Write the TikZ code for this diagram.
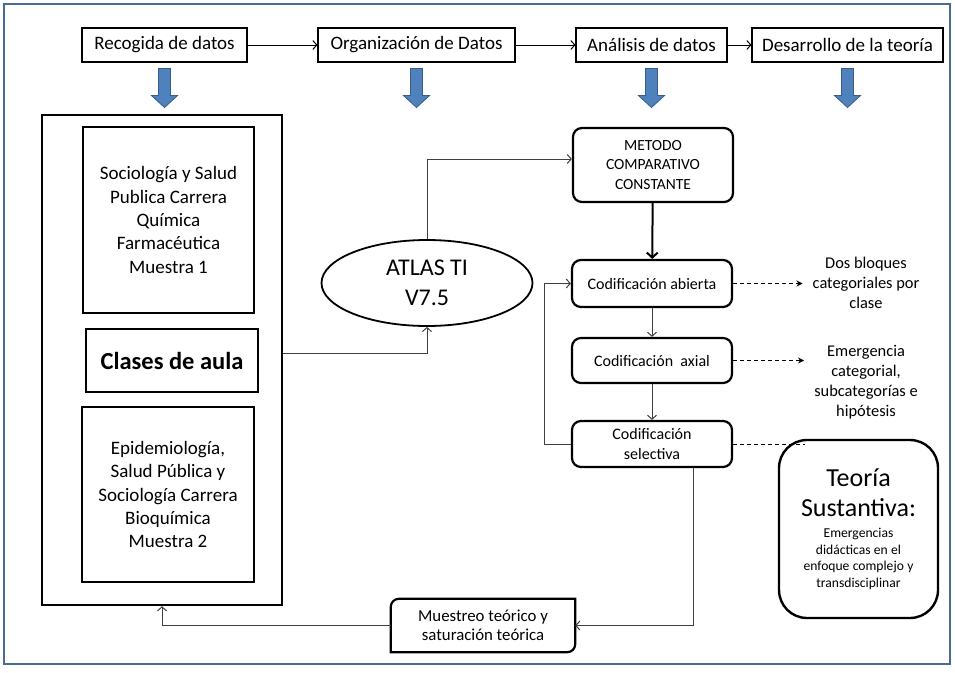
\documentclass[tikz,border=0pt]{standalone}
\usepackage{fontspec}
\setmainfont{Carlito}
\usetikzlibrary{shapes.geometric,arrows.meta}

\definecolor{arrowblue}{RGB}{79,129,189}
\definecolor{arrowedge}{RGB}{56,93,138}
\definecolor{framecol}{RGB}{74,106,150}

\newcommand{\fsz}[2]{\fontsize{#1}{#2}\selectfont}
% blue block arrow under a stage box
\newcommand{\downblock}[1]{\draw[bluearrow] ([xshift=-6pt,yshift=-6pt]#1.south) -- ++(12,0) -- ++(0,27) -- ++(7,0) -- ++(-13,12) -- ++(-13,-12) -- ++(7,0) -- cycle;}

\begin{document}
\begin{tikzpicture}[x=1pt,y=-1pt,
	stagebox/.style={draw,line width=1.1pt,minimum height=34pt,inner sep=0pt,font=\fsz{19}{23}},
	samplebox/.style={draw,line width=2.4pt,align=center,font=\fsz{19}{23.3}},
	codebox/.style={draw,line width=2.2pt,rounded corners=9pt,align=center,minimum width=160pt,font=\fsz{16}{20}},
	notetext/.style={align=center,inner xsep=10pt,font=\fsz{16.4}{20}},
	link/.style={draw=black!75,line width=1pt,-{Straight Barb[length=4pt,width=9pt]}},
	dashline/.style={draw=black,line width=1pt,dash pattern=on 4pt off 3pt},
	dashlink/.style={dashline,-{Stealth[length=6pt,width=6pt]}},
	bluearrow/.style={fill=arrowblue,draw=arrowedge,line width=0.8pt}
]
	\useasboundingbox (0,0) rectangle (955,672);
	\draw[framecol,line width=2.5pt] (4,4) rectangle (950,664);

	% stages
	\node[stagebox,minimum width=165pt] (rec) at (164.5,45) {Recogida de datos};
	\node[stagebox,minimum width=197pt] (org) at (416.5,45) {Organización de Datos};
	\node[stagebox,minimum width=151pt] (ana) at (651.5,45) {Análisis de datos};
	\node[stagebox,minimum width=191pt] (des) at (847.5,45) {Desarrollo de la teoría};

	\downblock{rec}
	\downblock{org}
	\downblock{ana}
	\downblock{des}

	% samples
	\node[samplebox,minimum width=240pt,minimum height=490pt] (aula) at (162,360) {};
	\node[samplebox,minimum width=171pt,minimum height=186pt] (m1) at (168.5,220) {Sociología y Salud\\Publica Carrera\\Química\\Farmacéutica\\Muestra 1};
	\node[samplebox,minimum width=172pt,minimum height=63pt,font=\fsz{24.5}{28}\bfseries] (clases) at (172,360.5) {Clases de aula};
	\node[samplebox,minimum width=172pt,minimum height=175pt] (m2) at (168,494.5) {Epidemiología,\\Salud Pública y\\Sociología Carrera\\Bioquímica\\Muestra 2};

	% software
	\node[draw,ellipse,line width=1.8pt,minimum width=211pt,minimum height=86pt,align=center,font=\fsz{24}{30}] (atlas) at (427,283) {ATLAS TI\\V7.5};

	% coding
	\node[codebox,minimum height=74pt,font=\fsz{15.5}{19.3}] (metodo) at (653,165) {METODO\\COMPARATIVO\\CONSTANTE};
	\node[codebox,minimum height=47pt] (abierta) at (652,283.5) {Codificación abierta};
	\node[codebox,minimum height=45pt] (axial) at (652,360.5) {Codificación\ \ axial};
	\node[codebox,minimum height=46pt] (selectiva) at (652,444) {Codificación\\selectiva};

	\node[notetext] (bloques) at (866,283) {Dos bloques\\categoriales por\\clase};
	\node[notetext] (emergencia) at (866,382.5) {Emergencia\\categorial,\\subcategorías e\\hipótesis};

	% theory
	\node[draw,line width=2.4pt,rounded corners=28pt,minimum width=159pt,minimum height=178pt,inner sep=2pt,text width=153pt,align=center] (teoria) at (858.5,529) {{\fsz{26}{30}Teoría\\Sustantiva:\par}\vspace{5pt}{\fsz{13.6}{16.5}Emergencias\\didácticas en el\\enfoque complejo y\\transdisciplinar\par}};
	\coordinate (teoriacorner) at ([xshift=27pt]teoria.north west);

	% sampling
	\node[minimum width=184pt,minimum height=53pt,align=center,font=\fsz{16.8}{19.5}] (muestreo) at (483,625.5) {Muestreo teórico y\\saturación teórica};
	\draw[line width=2.2pt] (muestreo.south west) -- ([yshift=-8pt]muestreo.north west) arc[start angle=180,end angle=90,radius=8pt] -- (muestreo.north east) -- ([yshift=8pt]muestreo.south east) arc[start angle=0,end angle=-90,radius=8pt] -- cycle;

	%Links
	\draw[link,draw=black] (rec) -- (org);
	\draw[link,draw=black] (org) -- (ana);
	\draw[link,draw=black] (ana) -- (des);
	\draw[link] ([yshift=7pt]aula.east) -| (atlas.south); % classes to software
	\draw[link] (atlas.north) |- ([yshift=6pt]metodo.west);
	\draw[link,draw=black,line width=2pt,-{Straight Barb[length=5pt,width=11pt]}] (metodo) -- (abierta);
	\draw[link] (abierta) -- (axial);
	\draw[link] (axial) -- (selectiva);
	\draw[link] (selectiva.west) -- ++(-26,0) |- (abierta.west); % back loop
	\draw[dashlink] (abierta.east) -- (abierta.east -| bloques.west);
	\draw[dashlink] (axial.east) -- (axial.east -| emergencia.west);
	\draw[dashline] (selectiva.east) -- (selectiva.east -| teoriacorner);
	\draw[link] ([xshift=41pt]selectiva.south) |- (muestreo.east);
	\draw[link] (muestreo.west) -| (aula.south);

\end{tikzpicture}
\end{document}
